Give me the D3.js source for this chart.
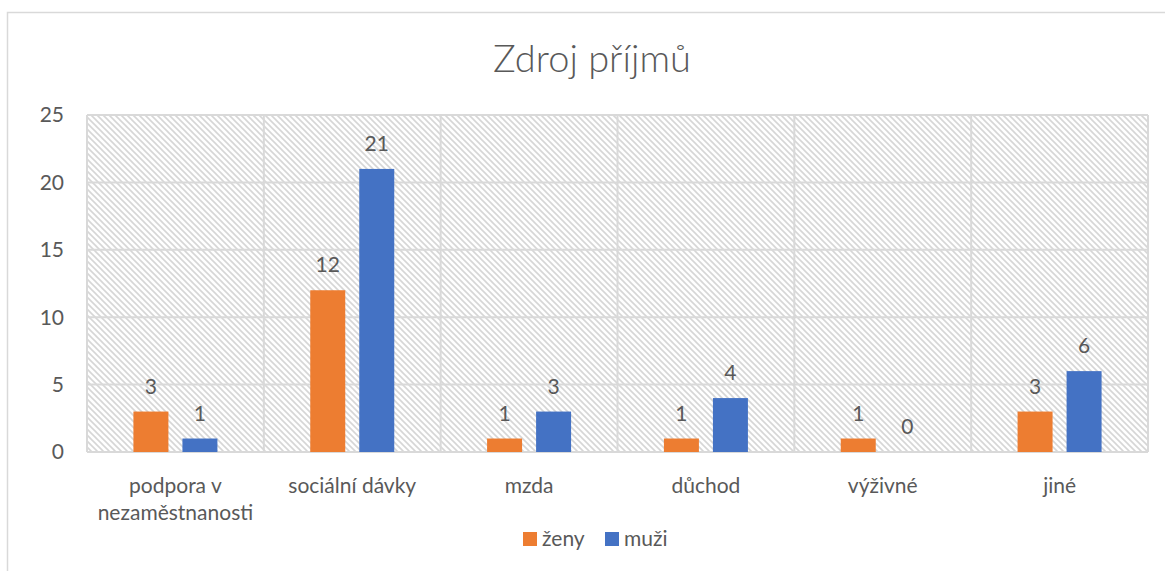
<!DOCTYPE html>
<html>
<head>
<meta charset="utf-8">
<script src="https://cdn.jsdelivr.net/npm/d3@7"></script>
<style>
  body { margin: 0; background: #fff; }
  text { font-family: Lato, "Open Sans", sans-serif; fill: #595959; }
</style>
</head>
<body>
<svg id="chart" width="1165" height="571"></svg>
<script>
// data
var categories = ["podpora v\nnezaměstnanosti", "sociální dávky", "mzda", "důchod", "výživné", "jiné"];
var series = ["ženy", "muži"];
var zeny = [3, 12, 1, 1, 1, 3];
var muzi = [1, 21, 3, 4, 0, 6];
var yTicks = [0, 5, 10, 15, 20, 25];
var colors = ["#ed7d31", "#4472c4"];

var values = [zeny, muzi];
var svg = d3.select("#chart");

// frame of the chart
svg.append("rect")
  .attr("x", 7.5).attr("y", 12.5)
  .attr("width", 1180).attr("height", 580)
  .attr("fill", "#fff").attr("stroke", "#d9d9d9").attr("stroke-width", 1.5);

// hatch pattern
var defs = svg.append("defs");
var pat = defs.append("pattern")
  .attr("id", "hatch")
  .attr("patternUnits", "userSpaceOnUse")
  .attr("width", 6).attr("height", 6);
pat.append("rect").attr("width", 6).attr("height", 6).attr("fill", "#fff");
pat.append("path")
  .attr("d", "M-1,-1 L7,7 M-4,2 L4,10 M2,-4 L10,4")
  .attr("stroke", "#d6d6d6").attr("stroke-width", 1.6);

var plotLeft = 87, plotRight = 1148, plotTop = 115, plotBottom = 452;

var x0 = d3.scaleBand().domain(categories).range([plotLeft, plotRight]).padding(0);
var x1 = d3.scaleBand().domain(series).range([0, x0.bandwidth()])
  .paddingInner(0.286).paddingOuter(0.947);
var y = d3.scaleLinear().domain([0, 25]).range([plotBottom, plotTop]);

// plot background
svg.append("rect")
  .attr("x", plotLeft).attr("y", plotTop)
  .attr("width", plotRight - plotLeft).attr("height", plotBottom - plotTop)
  .attr("fill", "url(#hatch)");

// grid
svg.append("g").selectAll("line").data(yTicks).join("line")
  .attr("x1", plotLeft).attr("x2", plotRight)
  .attr("y1", d => y(d)).attr("y2", d => y(d))
  .attr("stroke", "#d9d9d9").attr("stroke-width", 2);
var bounds = categories.map(c => x0(c)).concat([plotRight]);
svg.append("g").selectAll("line").data(bounds).join("line")
  .attr("x1", d => d).attr("x2", d => d)
  .attr("y1", plotTop).attr("y2", plotBottom)
  .attr("stroke", "#d9d9d9").attr("stroke-width", 2);

// y axis labels
svg.append("g").selectAll("text").data(yTicks).join("text")
  .attr("x", 64).attr("y", d => y(d))
  .attr("dy", "0.35em")
  .attr("text-anchor", "end")
  .style("font-size", "21px")
  .text(d => d);

// bars
var groups = svg.append("g").selectAll("g").data(categories).join("g")
  .attr("transform", c => "translate(" + x0(c) + ",0)");
groups.each(function(c, i) {
  var g = d3.select(this);
  series.forEach(function(s, j) {
    var v = values[j][i];
    g.append("rect")
      .attr("x", x1(s)).attr("width", x1.bandwidth())
      .attr("y", y(v)).attr("height", y(0) - y(v))
      .attr("fill", colors[j]);
    g.append("text")
      .attr("x", x1(s) + x1.bandwidth() / 2)
      .attr("y", y(v) - 18)
      .attr("text-anchor", "middle")
      .style("font-size", "21px")
      .text(v);
  });
});

// category labels
svg.append("g").selectAll("text").data(categories).join("text")
  .attr("text-anchor", "middle")
  .style("font-size", "21px")
  .each(function(c) {
    var t = d3.select(this);
    c.split("\n").forEach(function(line, k) {
      t.append("tspan")
        .attr("x", x0(c) + x0.bandwidth() / 2)
        .attr("y", 493 + k * 27)
        .text(line);
    });
  });

// title
svg.append("text")
  .attr("x", 592).attr("y", 72)
  .attr("text-anchor", "middle")
  .style("font-size", "38px")
  .style("font-weight", 300)
  .text("Zdroj příjmů");

// legend
var legend = svg.append("g").attr("transform", "translate(523,532)");
var lx = [0, 82];
series.forEach(function(s, j) {
  legend.append("rect")
    .attr("x", lx[j]).attr("y", 0)
    .attr("width", 14).attr("height", 14)
    .attr("fill", colors[j]);
  legend.append("text")
    .attr("x", lx[j] + 19).attr("y", 7)
    .attr("dy", "0.35em")
    .style("font-size", "21px")
    .text(s);
});
</script>
</body>
</html>
